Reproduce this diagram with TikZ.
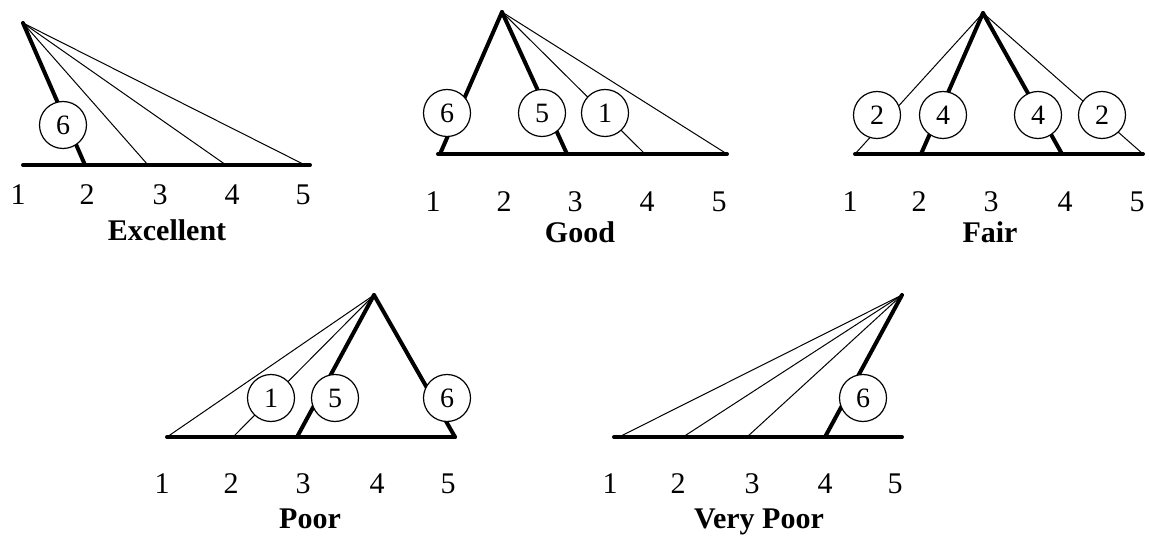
\documentclass[tikz,border=0pt]{standalone}
\usepackage{fontspec}
\setmainfont{Liberation Serif}
\usepackage{tikz}

\begin{document}
\begin{tikzpicture}[x=1pt, y=-1pt, line cap=round, line join=round,
  heavy/.style={line width=4.0pt},
  light/.style={line width=1.0pt},
  ball/.style={circle, draw, fill=white, line width=1.2pt, minimum size=47pt, inner sep=0pt,
               font=\fontsize{28}{30}\selectfont},
  tick/.style={font=\fontsize{30}{32}\selectfont, inner sep=0pt, anchor=base},
  grade/.style={font=\fontsize{30}{32}\selectfont\bfseries, inner sep=0pt, anchor=base}]

  %% ════ Excellent ════
  \coordinate (exTop) at (23,23);
  \coordinate (exL) at (23,165);   \coordinate (exR) at (310,165);
  \coordinate (exF2) at (85,165);  \coordinate (exF3) at (148,165);
  \coordinate (exF4) at (226,165); \coordinate (exF5) at (305,165);
  \draw[heavy] (exL) -- (exR);
  \draw[heavy] (exTop) -- (exF2);
  \draw[light] (exTop) -- (exF3);
  \draw[light] (exTop) -- (exF4);
  \draw[light] (exTop) -- (exF5);
  \node[ball] (exB6) at (63,125) {6};
  \node[tick] (exT1) at (18,205) {1};
  \node[tick] (exT2) at (87,205) {2};
  \node[tick] (exT3) at (160,205) {3};
  \node[tick] (exT4) at (232,205) {4};
  \node[tick] (exT5) at (303,205) {5};
  \node[grade] (exName) at (167,241) {Excellent};

  %% ════ Good ════
  \coordinate (gdTop) at (502,12);
  \coordinate (gdL) at (438,154);  \coordinate (gdR) at (727,154);
  \coordinate (gdF1) at (440,154); \coordinate (gdF2) at (567,154);
  \coordinate (gdF3) at (645,154);
  \draw[heavy] (gdL) -- (gdR);
  \draw[heavy] (gdTop) -- (gdF1);
  \draw[heavy] (gdTop) -- (gdF2);
  \draw[light] (gdTop) -- (gdF3);
  \draw[light] (gdTop) -- (gdR);
  \node[ball] (gdB6) at (447,113) {6};
  \node[ball] (gdB5) at (542,113) {5};
  \node[ball] (gdB1) at (605,113) {1};
  \node[tick] (gdT1) at (433,212) {1};
  \node[tick] (gdT2) at (504,212) {2};
  \node[tick] (gdT3) at (575,212) {3};
  \node[tick] (gdT4) at (647,212) {4};
  \node[tick] (gdT5) at (719,212) {5};
  \node[grade] (gdName) at (580,243) {Good};

  %% ════ Fair ════
  \coordinate (frTop) at (983,13);
  \coordinate (frL) at (855,154);  \coordinate (frR) at (1143,154);
  \coordinate (frF2) at (921,154); \coordinate (frF4) at (1062,154);
  \draw[heavy] (frL) -- (frR);
  \draw[light] (frTop) -- (frL);
  \draw[heavy] (frTop) -- (frF2);
  \draw[heavy] (frTop) -- (frF4);
  \draw[light] (frTop) -- (frR);
  \node[ball] (frB2a) at (877,115) {2};
  \node[ball] (frB4a) at (943,115) {4};
  \node[ball] (frB4b) at (1038,115) {4};
  \node[ball] (frB2b) at (1102,115) {2};
  \node[tick] (frT1) at (850,212) {1};
  \node[tick] (frT2) at (919,212) {2};
  \node[tick] (frT3) at (991,212) {3};
  \node[tick] (frT4) at (1065,212) {4};
  \node[tick] (frT5) at (1137,212) {5};
  \node[grade] (frName) at (990,243) {Fair};

  %% ════ Poor ════
  \coordinate (prTop) at (374,295);
  \coordinate (prL) at (167,437);  \coordinate (prR) at (455,437);
  \coordinate (prF2) at (233,437); \coordinate (prF3) at (297,437);
  \draw[heavy] (prL) -- (prR);
  \draw[light] (prTop) -- (prL);
  \draw[light] (prTop) -- (prF2);
  \draw[heavy] (prTop) -- (prF3);
  \draw[heavy] (prTop) -- (prR);
  \node[ball] (prB1) at (271,398) {1};
  \node[ball] (prB5) at (335,398) {5};
  \node[ball] (prB6) at (447,398) {6};
  \node[tick] (prT1) at (162,493) {1};
  \node[tick] (prT2) at (231,493) {2};
  \node[tick] (prT3) at (303,493) {3};
  \node[tick] (prT4) at (377,493) {4};
  \node[tick] (prT5) at (448,493) {5};
  \node[grade] (prName) at (310,528) {Poor};

  %% ════ Very Poor ════
  \coordinate (vpTop) at (902,295);
  \coordinate (vpL) at (614,437);  \coordinate (vpR) at (902,437);
  \coordinate (vpF1) at (619,437); \coordinate (vpF2) at (683,437);
  \coordinate (vpF3) at (747,437); \coordinate (vpF4) at (825,437);
  \draw[heavy] (vpL) -- (vpR);
  \draw[light] (vpTop) -- (vpF1);
  \draw[light] (vpTop) -- (vpF2);
  \draw[light] (vpTop) -- (vpF3);
  \draw[heavy] (vpTop) -- (vpF4);
  \node[ball] (vpB6) at (863,398) {6};
  \node[tick] (vpT1) at (610,493) {1};
  \node[tick] (vpT2) at (678,493) {2};
  \node[tick] (vpT3) at (752,493) {3};
  \node[tick] (vpT4) at (825,493) {4};
  \node[tick] (vpT5) at (895,493) {5};
  \node[grade] (vpName) at (759,528) {Very Poor};

  % fix the canvas to the reference size
  \pgfresetboundingbox
  \path[use as bounding box] (0,0) rectangle (1149,540);
\end{tikzpicture}
\end{document}
